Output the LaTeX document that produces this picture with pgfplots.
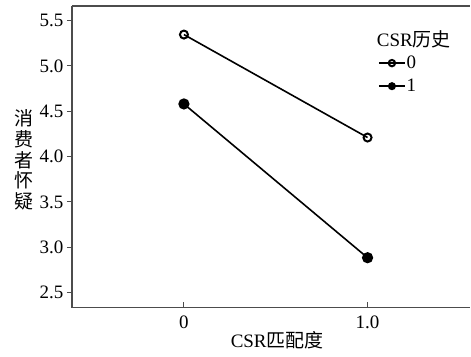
\documentclass[border=0pt]{standalone}
\usepackage{pgfplots}
\pgfplotsset{compat=1.18}
\usepackage{fontspec}
\setmainfont{Liberation Serif}
\newfontfamily\cjk{Noto Sans CJK SC}
\begin{document}
\begin{tikzpicture}[font=\fontsize{19}{22}\selectfont]
\begin{axis}[
  scale only axis, width=399pt, height=302pt,
  xmin=-0.61, xmax=1.56, ymin=2.335, ymax=5.66,
  separate axis lines,
  axis x line*=bottom, axis y line*=left,
  axis line style={black!70, line width=1.2pt},
  xtick={0,1}, xticklabels={0,1.0},
  ytick={2.5,3.0,3.5,4.0,4.5,5.0,5.5},
  yticklabel style={/pgf/number format/.cd, fixed, fixed zerofill, precision=1},
  /pgf/number format/assume math mode=true,
  tick align=outside, major tick length=5pt,
  tick style={black!70, line width=1pt},
  xtick style={yshift=6pt},
  ticklabel style={font=\fontsize{19}{22}\selectfont},
  xlabel={CSR{\cjk 匹配度}},
  xlabel style={font=\fontsize{19}{22}\selectfont, yshift=4pt, xshift=6pt},
  legend style={at={(rel axis cs:0.768,0.838)}, anchor=north west, draw=none, fill=none,
    inner sep=0pt, font=\fontsize{19}{22}\selectfont, row sep=7pt,
    nodes={inner sep=1pt}},
  legend cell align=left,
  legend image code/.code={\draw[mark repeat=2,mark phase=2,#1,mark size=3.2pt] plot coordinates {(0pt,0pt)(13pt,0pt)(26pt,0pt)};},
  clip=false,
]
\addplot[black, line width=1.6pt, mark=o, mark size=4pt, mark options={line width=2pt}] coordinates {(0,5.345) (1,4.21)};
\addlegendentry{0}
\addplot[black, line width=1.6pt, mark=*, mark size=4.8pt] coordinates {(0,4.58) (1,2.885)};
\addlegendentry{1}
\draw[black!70, line width=1.2pt] (rel axis cs:0,1) -- (rel axis cs:1,1);
\node[anchor=west, inner sep=0pt] at (rel axis cs:0.765,0.891) {CSR{\cjk 历史}};
\node[align=center, inner sep=0pt, font={\fontsize{19}{20.8}\selectfont\cjk}] at ([xshift=-48pt]rel axis cs:0,0.49) {消\\费\\者\\怀\\疑};
\end{axis}
\useasboundingbox (-72pt,-49pt) rectangle (399pt,308pt);
\end{tikzpicture}
\end{document}
